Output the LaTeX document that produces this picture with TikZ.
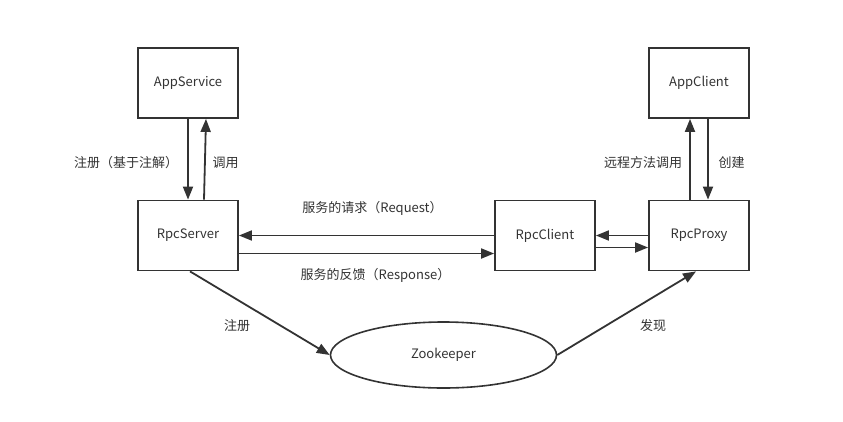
\documentclass[tikz,border=0pt]{standalone}
\usepackage{fontspec}
\setmainfont{Noto Sans CJK SC}
\usepackage{tikz}
\usetikzlibrary{shapes.geometric,arrows.meta}
\definecolor{ink}{HTML}{333333}
\tikzstyle{box}=[draw=ink,line width=1.8pt,minimum width=100pt,minimum height=70pt,inner sep=0pt,text=ink]
\tikzstyle{zk}=[draw=ink,ellipse,line width=1.6pt,minimum width=226pt,minimum height=66pt,inner sep=0pt,text=ink]
\tikzstyle{link}=[draw=ink,line width=1.8pt,-{Triangle[length=13pt,width=10pt]}]
\tikzstyle{lbl}=[text=ink,inner sep=0pt]

\begin{document}
\begin{tikzpicture}[x=1pt,y=-1pt,font=\fontsize{13}{15}\selectfont]
\fill[white] (0,0) rectangle (843,421);
\useasboundingbox (0,0) rectangle (843,421);
% boxes
\node [box] (AppService) at (188,83) {AppService};
\node [box] (RpcServer) at (188,235.5) {RpcServer};
\node [box] (RpcClient) at (545,235.5) {RpcClient};
\node [box] (RpcProxy) at (699,235.5) {RpcProxy};
\node [box] (AppClient) at (699,83) {AppClient};
\node [zk] (Zookeeper) at (443.5,355) {Zookeeper};
% links
\draw [link] (AppService.south) -- (RpcServer.north);
\draw [link] ([xshift=16pt]RpcServer.north) -- ([xshift=18pt]AppService.south);
\draw [link] (RpcClient.west) -- (RpcServer.east);
\draw [link] ([yshift=-18pt]RpcServer.east) -- ([yshift=-18pt]RpcClient.west);
\draw [link] (RpcProxy.west) -- (RpcClient.east);
\draw [link] ([yshift=-12pt]RpcClient.east) -- ([yshift=-12pt]RpcProxy.west);
\draw [link] ([xshift=-9pt]RpcProxy.north) -- ([xshift=-9pt]AppClient.south);
\draw [link] ([xshift=9pt]AppClient.south) -- ([xshift=9pt]RpcProxy.north);
\draw [link] ([xshift=2pt]RpcServer.south) -- (Zookeeper.west);
\draw [link] (Zookeeper.east) -- ([xshift=-3pt]RpcProxy.south);
% labels
\node [lbl] (l1) at (126,163) {注册（基于注解）};
\node [lbl] (l2) at (225.5,163) {调用};
\node [lbl] (l3) at (643,163) {远程方法调用};
\node [lbl] (l4) at (731.5,163) {创建};
\node [lbl] (l5) at (372.5,208) {服务的请求（Request）};
\node [lbl] (l6) at (375.5,275) {服务的反馈（Response）};
\node [lbl] (l7) at (237,326) {注册};
\node [lbl] (l8) at (653,326) {发现};
\end{tikzpicture}
\end{document}
